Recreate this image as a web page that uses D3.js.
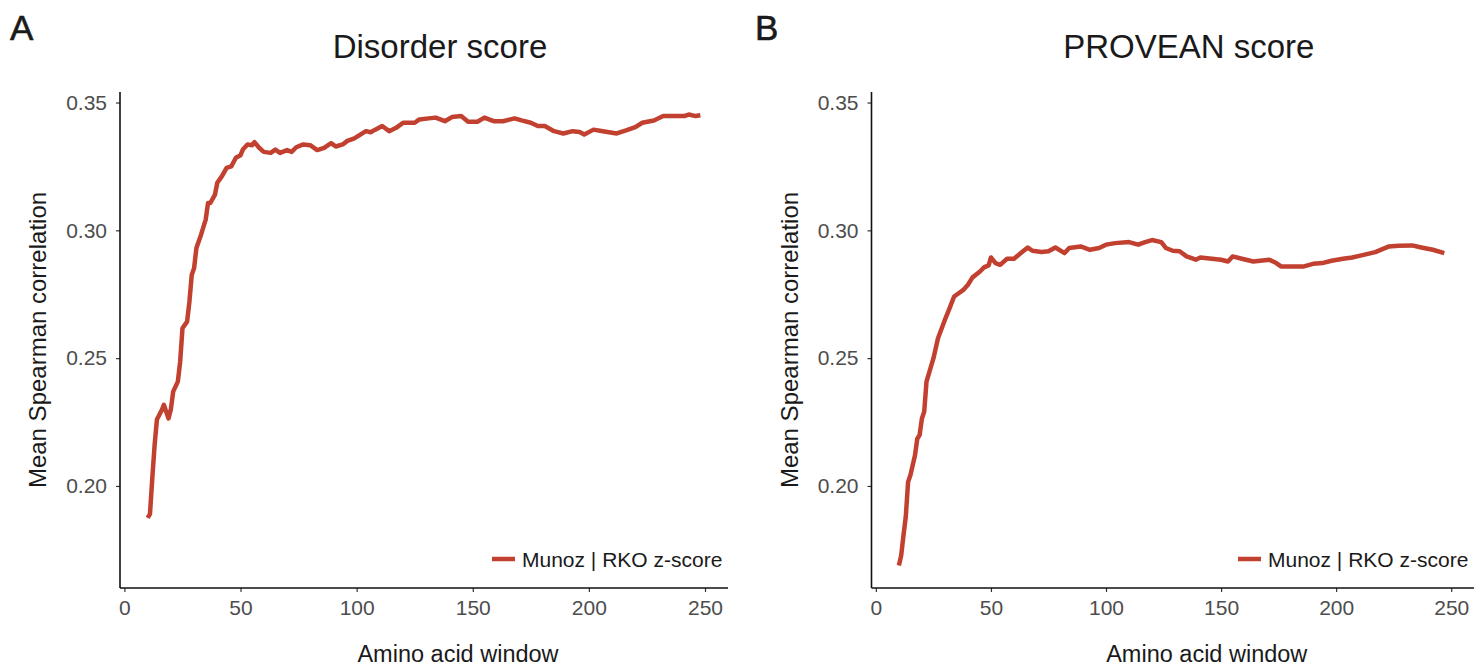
<!DOCTYPE html>
<html>
<head>
<meta charset="utf-8">
<script src="https://cdn.jsdelivr.net/npm/d3@7"></script>
<style>
  html, body { margin: 0; padding: 0; background: #ffffff; }
  svg { display: block; font-family: "Liberation Sans", Arial, Helvetica, sans-serif; }
</style>
</head>
<body>
<svg id="chart" width="1481" height="668"></svg>
<script>
// Mean Spearman correlation across amino acid window sizes (Munoz | RKO z-score)
const disorderWindow = [10,11,12,13,14,16,17,19,20,21,23,24,25,27,28,29,30,31,33,35,36,37,39,40,42,44,46,48,50,51,53,55,56,58,60,63,65,67,70,72,74,77,80,83,86,89,91,94,96,99,104,106,108,111,114,117,120,125,127,131,134,138,141,145,148,152,155,159,163,168,171,175,178,181,185,189,193,196,198,202,206,212,216,220,223,228,232,236,241,243,246,248];
const disorderScore = [0.1875,0.1890,0.2030,0.2160,0.2260,0.2295,0.2317,0.2264,0.2300,0.2369,0.2408,0.2486,0.2617,0.2643,0.2722,0.2826,0.2852,0.2931,0.2983,0.3042,0.3107,0.3107,0.3140,0.3186,0.3212,0.3244,0.3250,0.3284,0.3294,0.3316,0.3336,0.3333,0.3345,0.3323,0.3307,0.3303,0.3316,0.3303,0.3314,0.3307,0.3325,0.3336,0.3333,0.3314,0.3323,0.3341,0.3328,0.3336,0.3350,0.3360,0.3388,0.3384,0.3394,0.3408,0.3388,0.3401,0.3421,0.3421,0.3434,0.3438,0.3441,0.3427,0.3443,0.3447,0.3425,0.3425,0.3441,0.3427,0.3427,0.3438,0.3430,0.3421,0.3408,0.3408,0.3388,0.3379,0.3388,0.3385,0.3375,0.3394,0.3388,0.3379,0.3391,0.3404,0.3421,0.3430,0.3447,0.3447,0.3447,0.3453,0.3447,0.3450];

const proveanWindow = [10,11,12,13,14,15,17,18,19,20,21,22,25,27,30,32,34,36,38,40,42,45,47,49,50,52,54,57,60,63,66,68,72,75,78,82,84,89,93,97,100,104,110,114,117,120,124,126,129,132,135,139,141,146,150,153,155,159,164,167,171,174,176,180,186,190,194,198,203,207,211,217,223,227,233,237,242,247];
const proveanScore = [0.1689,0.1728,0.1807,0.1880,0.2016,0.2042,0.2120,0.2185,0.2199,0.2264,0.2290,0.2408,0.2499,0.2578,0.2650,0.2695,0.2741,0.2754,0.2767,0.2787,0.2816,0.2837,0.2855,0.2863,0.2894,0.2872,0.2865,0.2889,0.2889,0.2911,0.2933,0.2920,0.2915,0.2918,0.2933,0.2911,0.2931,0.2937,0.2924,0.2931,0.2944,0.2950,0.2954,0.2944,0.2954,0.2962,0.2954,0.2931,0.2920,0.2918,0.2898,0.2885,0.2894,0.2889,0.2885,0.2878,0.2898,0.2889,0.2878,0.2881,0.2885,0.2872,0.2859,0.2859,0.2859,0.2869,0.2872,0.2881,0.2889,0.2894,0.2902,0.2915,0.2937,0.2940,0.2941,0.2933,0.2924,0.2911];

const panelTitles = ["Disorder score", "PROVEAN score"];
const panelTags = ["A", "B"];
const xTicks = [0, 50, 100, 150, 200, 250];
const yTicks = [0.20, 0.25, 0.30, 0.35];
const seriesName = "Munoz | RKO z-score";
const xTitle = "Amino acid window";
const yTitle = "Mean Spearman correlation";

const lineColor = "#C1402F";
const svg = d3.select("#chart");

// shared limits with 5% padding on each side
function padded(lo, hi) {
  const pad = (hi - lo) * 0.05;
  return [lo - pad, hi + pad];
}
const allWindows = disorderWindow.concat(proveanWindow);
const allScores = disorderScore.concat(proveanScore);
const xDomain = padded(d3.min(allWindows), d3.max(allWindows));
const yDomain = padded(d3.min(allScores), d3.max(allScores));

const panels = [
  { left: 120, right: 728, tagX: 10, windows: disorderWindow, scores: disorderScore },
  { left: 871.5, right: 1474, tagX: 755, windows: proveanWindow, scores: proveanScore }
];
const plotTop = 92, plotBottom = 588;

panels.forEach((p, i) => {
  const x = d3.scaleLinear().domain(xDomain).range([p.left, p.right]);
  const y = d3.scaleLinear().domain(yDomain).range([plotBottom, plotTop]);
  const g = svg.append("g");

  // axes
  const xAxis = g.append("g")
    .attr("transform", `translate(0,${plotBottom})`)
    .call(d3.axisBottom(x).tickValues(xTicks).tickFormat(d3.format("d")).tickSize(4).tickPadding(8));
  const yAxis = g.append("g")
    .attr("transform", `translate(${p.left},0)`)
    .call(d3.axisLeft(y).tickValues(yTicks).tickFormat(d3.format(".2f")).tickSize(4).tickPadding(9));

  [xAxis, yAxis].forEach(ax => {
    ax.select(".domain").remove();
    ax.selectAll(".tick line").attr("stroke", "#333333").attr("stroke-width", 1.2);
    ax.selectAll(".tick text")
      .attr("fill", "#4D4D4D")
      .style("font-size", "21px")
      .style("font-family", "'Liberation Sans', Arial, sans-serif");
  });

  // axis lines
  g.append("line")
    .attr("x1", p.left).attr("x2", p.right)
    .attr("y1", plotBottom).attr("y2", plotBottom)
    .attr("stroke", "#111").attr("stroke-width", 1.6);
  g.append("line")
    .attr("x1", p.left).attr("x2", p.left)
    .attr("y1", plotTop).attr("y2", plotBottom)
    .attr("stroke", "#111").attr("stroke-width", 1.6);

  // series line
  const pts = p.windows.map((w, k) => [w, p.scores[k]]);
  g.append("path")
    .datum(pts)
    .attr("fill", "none")
    .attr("stroke", lineColor)
    .attr("stroke-width", 4.5)
    .attr("stroke-linejoin", "round")
    .attr("d", d3.line().x(d => x(d[0])).y(d => y(d[1])));

  // legend inside the panel, lower right
  const lx = p.right - 236;
  g.append("line")
    .attr("x1", lx).attr("x2", lx + 23)
    .attr("y1", 559).attr("y2", 559)
    .attr("stroke", lineColor).attr("stroke-width", 4.5);
  g.append("text")
    .attr("x", lx + 30).attr("y", 566.5)
    .attr("fill", "#1a1a1a")
    .style("font-size", "21px")
    .text(seriesName);

  // titles
  const mid = (p.left + p.right) / 2;
  g.append("text")
    .attr("x", mid + 16).attr("y", 58)
    .attr("text-anchor", "middle")
    .attr("fill", "#1a1a1a")
    .style("font-size", "33px")
    .text(panelTitles[i]);
  g.append("text")
    .attr("x", mid + 34).attr("y", 662)
    .attr("text-anchor", "middle")
    .attr("fill", "#1a1a1a")
    .style("font-size", "23.5px")
    .text(xTitle);
  g.append("text")
    .attr("transform", `translate(${p.left - 74},${(plotTop + plotBottom) / 2}) rotate(-90)`)
    .attr("text-anchor", "middle")
    .attr("fill", "#1a1a1a")
    .style("font-size", "24px")
    .text(yTitle);

  // panel tag
  g.append("text")
    .attr("x", p.tagX).attr("y", 40)
    .attr("fill", "#1a1a1a")
    .style("font-size", "35px")
    .style("stroke", "#1a1a1a")
    .style("stroke-width", 0.6)
    .text(panelTags[i]);
});
</script>
</body>
</html>
